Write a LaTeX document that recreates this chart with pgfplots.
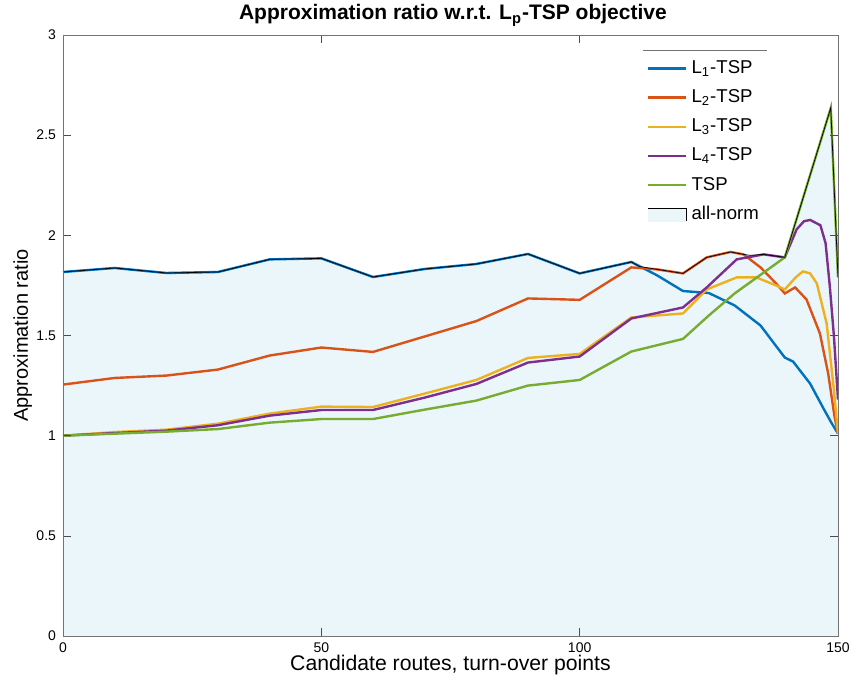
\documentclass[border=0pt]{standalone}
\usepackage{fontspec}
\setmainfont{Liberation Sans}
\usepackage{pgfplots}
\pgfplotsset{compat=1.18}
\definecolor{mblue}{RGB}{0,114,189}
\definecolor{morange}{RGB}{217,83,25}
\definecolor{myellow}{RGB}{237,177,32}
\definecolor{mpurple}{RGB}{126,47,142}
\definecolor{mgreen}{RGB}{119,172,48}
\definecolor{fillblue}{RGB}{235,246,251}
\begin{document}
\begin{tikzpicture}
\begin{axis}[
  scale only axis, width=387.5pt, height=300.5pt,
  xmin=0, xmax=150, ymin=0, ymax=3,
  xtick={0,50,100,150}, ytick={0,0.5,1,1.5,2,2.5,3},
  yticklabels={0,0.5,1,1.5,2,2.5,3},
  /pgf/number format/assume math mode=true,
  tick label style={font=\fontsize{7}{8}\selectfont},
  tick align=inside, major tick length=4pt,
  axis line style={black!55}, tick style={black!70},
  axis on top,
  xlabel={Candidate routes, turn-over points},
  xlabel style={at={(axis description cs:0.5,-0.0582)}, anchor=base, font=\fontsize{10.6}{12}\selectfont},
  ylabel={Approximation ratio},
  ylabel style={at={(axis description cs:-0.0452,0.5)}, anchor=base, font=\fontsize{10}{12}\selectfont},
  legend style={name=leg, at={(axis description cs:0.748,0.975)}, anchor=north west,
    draw=none, fill=white, font=\fontsize{9.3}{10}\selectfont, row sep=2.6pt,
    inner xsep=2pt, inner ysep=3pt},
  legend cell align=left,
  legend image code/.code={\draw[#1] (0cm,0cm) -- (0.67cm,0cm);},
]
\addplot[draw=none, fill=fillblue, forget plot] coordinates {
(0,0) (0,1.817) (10,1.837) (20,1.812) (30,1.817) (40,1.880) (50,1.885) (60,1.792) (70,1.832) (80,1.857) (90,1.907) (100,1.810) (110,1.867) (111.5,1.845) (115,1.830) (120,1.810) (124.6,1.890) (129.2,1.917) (131.7,1.905) (133,1.900) (135.6,1.905) (139.7,1.890) (148.6,2.636) (150,1.79) (150,0)};
\addplot[mblue, line width=1.2pt] coordinates {
(0,1.817) (10,1.837) (20,1.812) (30,1.817) (40,1.880) (50,1.885) (60,1.792) (70,1.832) (80,1.857) (90,1.907) (100,1.810) (110,1.867) (115,1.80) (120,1.722) (125,1.712) (130,1.65) (135,1.55) (139.7,1.39) (141.3,1.37) (144.6,1.26) (147.1,1.14) (148.6,1.07) (150,1.01)};
\addlegendentry{L\textsubscript{1}-TSP}
\addplot[morange, line width=1.2pt] coordinates {
(0,1.255) (10,1.288) (20,1.300) (30,1.330) (40,1.400) (50,1.440) (60,1.418) (70,1.495) (80,1.572) (90,1.685) (100,1.678) (110,1.840) (115,1.830) (120,1.810) (124.6,1.890) (129.2,1.917) (131.7,1.905) (135,1.84) (138,1.76) (139.7,1.71) (141.7,1.74) (143.9,1.68) (146.5,1.51) (148.1,1.31) (149.3,1.10) (150,1.01)};
\addlegendentry{L\textsubscript{2}-TSP}
\addplot[myellow, line width=1.2pt] coordinates {
(0,1.0) (10,1.018) (20,1.030) (30,1.060) (40,1.110) (50,1.145) (60,1.143) (70,1.210) (80,1.278) (90,1.388) (100,1.408) (110,1.590) (120,1.610) (124.6,1.730) (130.4,1.790) (134.2,1.790) (138,1.750) (139.7,1.730) (141.8,1.790) (143.2,1.820) (144.6,1.810) (145.9,1.760) (147.8,1.560) (149.2,1.230) (150,1.01)};
\addlegendentry{L\textsubscript{3}-TSP}
\addplot[mpurple, line width=1.2pt] coordinates {
(0,1.0) (10,1.013) (20,1.025) (30,1.052) (40,1.100) (50,1.128) (60,1.128) (70,1.190) (80,1.258) (90,1.365) (100,1.395) (110,1.585) (120,1.640) (124.6,1.740) (130.4,1.880) (135.6,1.905) (139.7,1.890) (142,2.030) (143.4,2.070) (144.6,2.077) (146.6,2.050) (147.6,1.960) (148.4,1.750) (149.2,1.500) (150,1.18)};
\addlegendentry{L\textsubscript{4}-TSP}
\addplot[mgreen, line width=1.2pt] coordinates {
(0,1.0) (10,1.010) (20,1.020) (30,1.033) (40,1.065) (50,1.083) (60,1.083) (70,1.130) (80,1.175) (90,1.250) (100,1.278) (110,1.420) (120,1.483) (125,1.600) (130,1.710) (139.7,1.890) (148.6,2.636) (150,1.79)};
\addlegendentry{TSP}
\addplot[black, line width=0.35pt,
  legend image code/.code={\fill[fillblue] (0cm,-0.11cm) rectangle (0.67cm,0.11cm); \draw[black, line width=0.4pt] (0cm,0.11cm) -- (0.67cm,0.11cm) -- (0.67cm,-0.11cm);}] coordinates {
(0,1.817) (10,1.837) (20,1.812) (30,1.817) (40,1.880) (50,1.885) (60,1.792) (70,1.832) (80,1.857) (90,1.907) (100,1.810) (110,1.867) (111.5,1.845) (115,1.830) (120,1.810) (124.6,1.890) (129.2,1.917) (131.7,1.905) (133,1.900) (135.6,1.905) (139.7,1.890) (148.6,2.636) (150,1.79)};
\addlegendentry{all-norm}
\end{axis}
\draw[black!55, line width=0.5pt] (leg.north west) -- (leg.north east);
\node[anchor=base, inner sep=0pt, font=\fontsize{10.5}{12}\selectfont\bfseries] at ([shift={(1.2pt,7.5pt)}]current axis.north) {Approximation ratio w.r.t. L\textsubscript{p}-TSP objective};
\pgfresetboundingbox
\path ([shift={(-31.5pt,-27.5pt)}]current axis.south west) rectangle ([shift={(6.5pt,17.5pt)}]current axis.north east);
\end{tikzpicture}
\end{document}
